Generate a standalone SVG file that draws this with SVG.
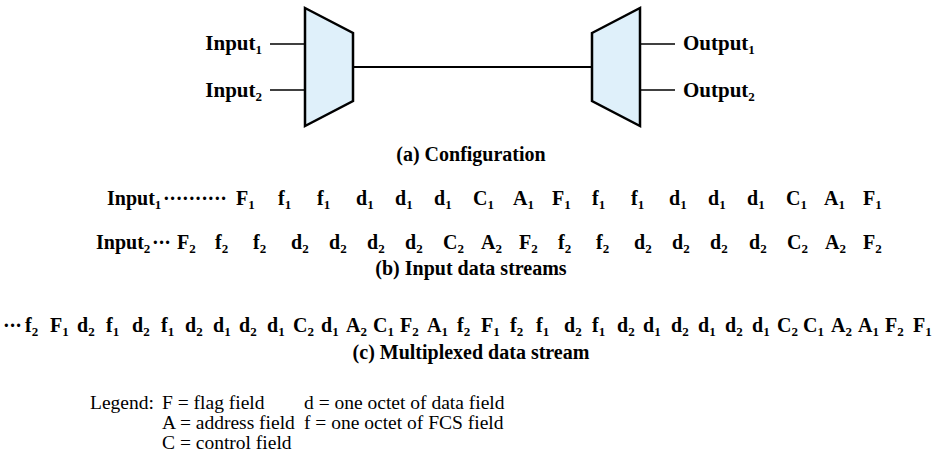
<svg xmlns="http://www.w3.org/2000/svg" width="942" height="473" viewBox="0 0 942 473">
<style>
text{font-family:"Liberation Serif","Times New Roman",serif;fill:#000}
.b{font-weight:bold;font-size:21px}
.c{font-weight:bold;font-size:20px}
.r{font-weight:bold;font-size:20px}
.s{font-size:13px}
.lg{font-size:19.5px}
.mux{fill:#dff0fa;stroke:#000;stroke-width:2.5;stroke-linejoin:miter}
.ln{stroke:#000;stroke-width:1.3;fill:none}
.lnk{stroke:#000;stroke-width:2;fill:none}
</style>
<rect width="942" height="473" fill="#fff"/>
<g id="connectors">
<line class="ln" x1="270" y1="44" x2="305" y2="44"/>
<line class="ln" x1="270" y1="90" x2="305" y2="90"/>
<line class="lnk" x1="353" y1="67" x2="592" y2="67"/>
<line class="ln" x1="640" y1="44" x2="675" y2="44"/>
<line class="ln" x1="640" y1="90" x2="675" y2="90"/>
</g>
<g id="mux">
<polygon class="mux" points="305,8 353,33 353,101 305,126"/>
</g>
<g id="demux">
<polygon class="mux" points="592,33 640,8 640,126 592,101"/>
</g>
<g id="input1"><text class="b" x="262" y="50" text-anchor="end">Input<tspan class="s" dy="4">1</tspan></text></g>
<g id="input2"><text class="b" x="262" y="97" text-anchor="end">Input<tspan class="s" dy="4">2</tspan></text></g>
<g id="output1"><text class="b" x="683" y="50">Output<tspan class="s" dy="4">1</tspan></text></g>
<g id="output2"><text class="b" x="683" y="97">Output<tspan class="s" dy="4">2</tspan></text></g>
<g id="caption-a"><text class="c" x="471" y="161" text-anchor="middle">(a) Configuration</text></g>
<g id="stream-1">
<text class="r" x="107" y="205">Input<tspan class="s" dy="4">1</tspan></text>
<text class="r" x="163" y="205" textLength="64" lengthAdjust="spacing">··········</text>
<text class="r" y="205"><tspan x="236">F</tspan><tspan class="s" dy="4">1</tspan><tspan x="278" dy="-4">f</tspan><tspan class="s" dy="4">1</tspan><tspan x="317" dy="-4">f</tspan><tspan class="s" dy="4">1</tspan><tspan x="356" dy="-4">d</tspan><tspan class="s" dy="4">1</tspan><tspan x="395" dy="-4">d</tspan><tspan class="s" dy="4">1</tspan><tspan x="434" dy="-4">d</tspan><tspan class="s" dy="4">1</tspan><tspan x="473" dy="-4">C</tspan><tspan class="s" dy="4">1</tspan><tspan x="513" dy="-4">A</tspan><tspan class="s" dy="4">1</tspan><tspan x="552" dy="-4">F</tspan><tspan class="s" dy="4">1</tspan><tspan x="592" dy="-4">f</tspan><tspan class="s" dy="4">1</tspan><tspan x="631" dy="-4">f</tspan><tspan class="s" dy="4">1</tspan><tspan x="669" dy="-4">d</tspan><tspan class="s" dy="4">1</tspan><tspan x="708" dy="-4">d</tspan><tspan class="s" dy="4">1</tspan><tspan x="747" dy="-4">d</tspan><tspan class="s" dy="4">1</tspan><tspan x="786" dy="-4">C</tspan><tspan class="s" dy="4">1</tspan><tspan x="824" dy="-4">A</tspan><tspan class="s" dy="4">1</tspan><tspan x="863" dy="-4">F</tspan><tspan class="s" dy="4">1</tspan></text>
</g>
<g id="stream-2">
<text class="r" x="96" y="249">Input<tspan class="s" dy="4">2</tspan></text>
<text class="r" x="152" y="249" textLength="19" lengthAdjust="spacing">···</text>
<text class="r" y="249"><tspan x="177">F</tspan><tspan class="s" dy="4">2</tspan><tspan x="215" dy="-4">f</tspan><tspan class="s" dy="4">2</tspan><tspan x="253" dy="-4">f</tspan><tspan class="s" dy="4">2</tspan><tspan x="291" dy="-4">d</tspan><tspan class="s" dy="4">2</tspan><tspan x="329" dy="-4">d</tspan><tspan class="s" dy="4">2</tspan><tspan x="367" dy="-4">d</tspan><tspan class="s" dy="4">2</tspan><tspan x="405" dy="-4">d</tspan><tspan class="s" dy="4">2</tspan><tspan x="443" dy="-4">C</tspan><tspan class="s" dy="4">2</tspan><tspan x="481" dy="-4">A</tspan><tspan class="s" dy="4">2</tspan><tspan x="519" dy="-4">F</tspan><tspan class="s" dy="4">2</tspan><tspan x="558" dy="-4">f</tspan><tspan class="s" dy="4">2</tspan><tspan x="596" dy="-4">f</tspan><tspan class="s" dy="4">2</tspan><tspan x="634" dy="-4">d</tspan><tspan class="s" dy="4">2</tspan><tspan x="672" dy="-4">d</tspan><tspan class="s" dy="4">2</tspan><tspan x="710" dy="-4">d</tspan><tspan class="s" dy="4">2</tspan><tspan x="749" dy="-4">d</tspan><tspan class="s" dy="4">2</tspan><tspan x="787" dy="-4">C</tspan><tspan class="s" dy="4">2</tspan><tspan x="825" dy="-4">A</tspan><tspan class="s" dy="4">2</tspan><tspan x="863" dy="-4">F</tspan><tspan class="s" dy="4">2</tspan></text>
</g>
<g id="caption-b"><text class="c" x="471" y="275" text-anchor="middle">(b) Input data streams</text></g>
<g id="stream-mux">
<text class="r" x="3" y="332" textLength="19" lengthAdjust="spacing">···</text>
<text class="r" y="332"><tspan x="25">f</tspan><tspan class="s" dy="4">2</tspan><tspan x="50" dy="-4">F</tspan><tspan class="s" dy="4">1</tspan><tspan x="77" dy="-4">d</tspan><tspan class="s" dy="4">2</tspan><tspan x="106" dy="-4">f</tspan><tspan class="s" dy="4">1</tspan><tspan x="132" dy="-4">d</tspan><tspan class="s" dy="4">2</tspan><tspan x="161" dy="-4">f</tspan><tspan class="s" dy="4">1</tspan><tspan x="185" dy="-4">d</tspan><tspan class="s" dy="4">2</tspan><tspan x="213" dy="-4">d</tspan><tspan class="s" dy="4">1</tspan><tspan x="239" dy="-4">d</tspan><tspan class="s" dy="4">2</tspan><tspan x="267" dy="-4">d</tspan><tspan class="s" dy="4">1</tspan><tspan x="293" dy="-4">C</tspan><tspan class="s" dy="4">2</tspan><tspan x="321" dy="-4">d</tspan><tspan class="s" dy="4">1</tspan><tspan x="346" dy="-4">A</tspan><tspan class="s" dy="4">2</tspan><tspan x="373" dy="-4">C</tspan><tspan class="s" dy="4">1</tspan><tspan x="400" dy="-4">F</tspan><tspan class="s" dy="4">2</tspan><tspan x="427" dy="-4">A</tspan><tspan class="s" dy="4">1</tspan><tspan x="457" dy="-4">f</tspan><tspan class="s" dy="4">2</tspan><tspan x="481" dy="-4">F</tspan><tspan class="s" dy="4">1</tspan><tspan x="510" dy="-4">f</tspan><tspan class="s" dy="4">2</tspan><tspan x="536" dy="-4">f</tspan><tspan class="s" dy="4">1</tspan><tspan x="564" dy="-4">d</tspan><tspan class="s" dy="4">2</tspan><tspan x="592" dy="-4">f</tspan><tspan class="s" dy="4">1</tspan><tspan x="617" dy="-4">d</tspan><tspan class="s" dy="4">2</tspan><tspan x="643" dy="-4">d</tspan><tspan class="s" dy="4">1</tspan><tspan x="671" dy="-4">d</tspan><tspan class="s" dy="4">2</tspan><tspan x="698" dy="-4">d</tspan><tspan class="s" dy="4">1</tspan><tspan x="725" dy="-4">d</tspan><tspan class="s" dy="4">2</tspan><tspan x="752" dy="-4">d</tspan><tspan class="s" dy="4">1</tspan><tspan x="777" dy="-4">C</tspan><tspan class="s" dy="4">2</tspan><tspan x="803" dy="-4">C</tspan><tspan class="s" dy="4">1</tspan><tspan x="831" dy="-4">A</tspan><tspan class="s" dy="4">2</tspan><tspan x="858" dy="-4">A</tspan><tspan class="s" dy="4">1</tspan><tspan x="885" dy="-4">F</tspan><tspan class="s" dy="4">2</tspan><tspan x="913" dy="-4">F</tspan><tspan class="s" dy="4">1</tspan></text>
</g>
<g id="caption-c"><text class="c" x="471" y="359" text-anchor="middle">(c) Multiplexed data stream</text></g>
<g id="legend">
<text class="lg" x="90" y="409">Legend:</text>
<text class="lg" x="162" y="409">F = flag field</text>
<text class="lg" x="304" y="409">d = one octet of data field</text>
<text class="lg" x="162" y="429">A = address field</text>
<text class="lg" x="304" y="429">f = one octet of FCS field</text>
<text class="lg" x="162" y="449">C = control field</text>
</g>
</svg>
